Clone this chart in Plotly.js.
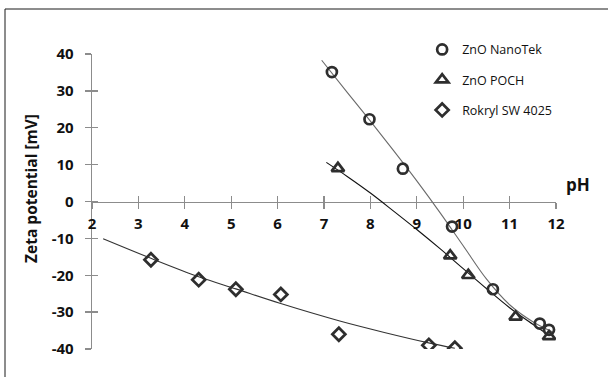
<!DOCTYPE html>
<html>
<head>
<meta charset="utf-8">
<script src="https://cdn.plot.ly/plotly-3.0.1.min.js"></script>
<style>html,body{margin:0;padding:0;background:#fff;}#chart{width:608px;height:377px;}</style>
</head>
<body>
<div id="chart"></div>
<script>
// Measured points
const nanoPH   = [7.17, 7.98, 8.70, 9.76, 10.64, 11.65, 11.85];
const nanoZeta = [35.1, 22.3, 8.9, -6.8, -23.8, -33.1, -34.8];
const pochPH   = [7.30, 9.72, 10.11, 11.13, 11.85];
const pochZeta = [9.0, -14.7, -20.0, -31.3, -36.6];
const rokPH    = [3.27, 4.30, 5.10, 6.07, 7.32, 9.26, 9.82];
const rokZeta  = [-15.8, -21.2, -23.8, -25.2, -36.0, -39.0, -39.8];

// Trend lines
const nanoFitPH   = [6.95, 7.5, 8.0, 8.5, 9.0, 9.5, 10.0, 10.5, 11.0, 11.5, 11.95];
const nanoFitZeta = [38.3, 29.6, 21.8, 13.8, 5.6, -3.0, -12.0, -21.0, -28.0, -32.6, -35.5];
const pochFitPH   = [7.05, 7.5, 8.0, 8.5, 9.0, 9.5, 10.0, 10.5, 11.0, 11.5, 11.85];
const pochFitZeta = [10.6, 6.8, 2.3, -2.6, -7.6, -12.8, -18.2, -23.6, -28.8, -33.3, -36.3];
const rokFitPH    = [2.24, 3.27, 4.30, 5.10, 6.05, 7.34, 8.30, 9.28, 9.82];
const rokFitZeta  = [-10.1, -15.4, -20.4, -23.7, -27.6, -32.4, -35.5, -38.4, -39.8];

// Series names and tick labels
const seriesNames = ["ZnO NanoTek", "ZnO POCH", "Rokryl SW 4025"];
const xTickVals = [2, 3, 4, 5, 6, 7, 8, 9, 10, 11, 12];
const xTickText = ["2", "3", "4", "5", "6", "7", "8", "9", "10", "11", "12"];
const yTickVals = [-40, -30, -20, -10, 0, 10, 20, 30, 40];
const yTickText = ["-40", "-30", "-20", "-10", "0", "10", "20", "30", "40"];

const mk = '#2e2e2e';
const traces = [
  {x: nanoFitPH, y: nanoFitZeta, mode: 'lines', line: {color: '#6a6a6a', width: 1.1, shape: 'spline'}, showlegend: false, hoverinfo: 'skip'},
  {x: pochFitPH, y: pochFitZeta, mode: 'lines', line: {color: '#111111', width: 1.1, shape: 'spline'}, showlegend: false, hoverinfo: 'skip'},
  {x: rokFitPH, y: rokFitZeta, mode: 'lines', line: {color: '#333333', width: 1.1, shape: 'spline'}, showlegend: false, hoverinfo: 'skip'},
  {x: nanoPH, y: nanoZeta, mode: 'markers', name: seriesNames[0], legendgroup: 'a',
   marker: {symbol: 'circle-open', size: 10, color: mk, line: {width: 2.7, color: mk}}},
  {x: pochPH, y: pochZeta, mode: 'markers', name: seriesNames[1], legendgroup: 'b',
   marker: {symbol: 'triangle-up-open', size: 11, color: mk, line: {width: 2.7, color: mk}}},
  {x: rokPH, y: rokZeta, mode: 'markers', name: seriesNames[2], legendgroup: 'c',
   marker: {symbol: 'diamond-open', size: 10, color: mk, line: {width: 2.7, color: mk}}},
  {x: [], y: [], xaxis: 'x2', yaxis: 'y2', mode: 'markers', showlegend: false, hoverinfo: 'skip'}
];

const axisCol = '#8c8c8c';
const tickFont = {family: 'Open Sans, sans-serif', size: 15, color: '#111111', weight: 'bold'};

const layout = {
  width: 608, height: 377,
  margin: {l: 92, r: 52, t: 54, b: 28, pad: 0},
  paper_bgcolor: '#ffffff', plot_bgcolor: '#ffffff',
  showlegend: true,
  xaxis: {
    range: [2, 12], anchor: 'free', position: 0.5,
    tickmode: 'array', tickvals: xTickVals, ticktext: xTickText,
    ticks: 'outside', ticklen: 6, tickwidth: 1.3, tickcolor: axisCol,
    showline: true, linecolor: axisCol, linewidth: 1.3,
    showgrid: false, zeroline: false, layer: 'below traces',
    tickfont: tickFont, ticklabelstandoff: 2
  },
  yaxis: {
    range: [-40, 40], anchor: 'x',
    tickmode: 'array', tickvals: yTickVals, ticktext: yTickText,
    ticks: 'outside', ticklen: 6, tickwidth: 1.3, tickcolor: axisCol,
    showline: true, linecolor: axisCol, linewidth: 1.3,
    showgrid: false, zeroline: false, layer: 'below traces',
    tickfont: tickFont, ticklabelstandoff: 8
  },
  xaxis2: {
    range: [2, 12], overlaying: 'x', anchor: 'free', position: 0.5,
    tickmode: 'array', tickvals: xTickVals,
    ticks: 'inside', ticklen: 6, tickwidth: 1.3, tickcolor: axisCol,
    showticklabels: false, showline: false, showgrid: false, zeroline: false, layer: 'below traces'
  },
  yaxis2: {
    range: [-40, 40], overlaying: 'y', anchor: 'x2', side: 'left',
    tickmode: 'array', tickvals: yTickVals,
    ticks: 'inside', ticklen: 6, tickwidth: 1.3, tickcolor: axisCol,
    showticklabels: false, showline: false, showgrid: false, zeroline: false, layer: 'below traces'
  },
  legend: {
    x: 0.7115, y: 1.065, xanchor: 'left', yanchor: 'top',
    bgcolor: 'rgba(0,0,0,0)', borderwidth: 0,
    traceorder: 'grouped', tracegroupgap: 11,
    font: {family: 'Open Sans, sans-serif', size: 12.5, color: '#111111'}
  },
  annotations: [
    {text: 'Zeta potential [mV]', xref: 'paper', yref: 'paper', x: -0.130, y: 0.545,
     xanchor: 'center', yanchor: 'middle', textangle: -90, showarrow: false,
     font: {family: 'Open Sans, sans-serif', size: 15.5, color: '#111111', weight: 'bold'}},
    {text: 'pH', xref: 'paper', yref: 'paper', x: 1.047, y: 0.556,
     xanchor: 'center', yanchor: 'middle', showarrow: false,
     font: {family: 'Open Sans, sans-serif', size: 17, color: '#111111', weight: 'bold'}}
  ],
  shapes: [
    {type: 'rect', xref: 'paper', yref: 'paper', x0: -0.1875, x1: 1.14, y0: -0.14, y1: 1.1525,
     line: {color: '#1a1a1a', width: 1}, fillcolor: 'rgba(0,0,0,0)', layer: 'below'}
  ]
};

Plotly.newPlot('chart', traces, layout, {displayModeBar: false, staticPlot: true});
</script>
</body>
</html>
